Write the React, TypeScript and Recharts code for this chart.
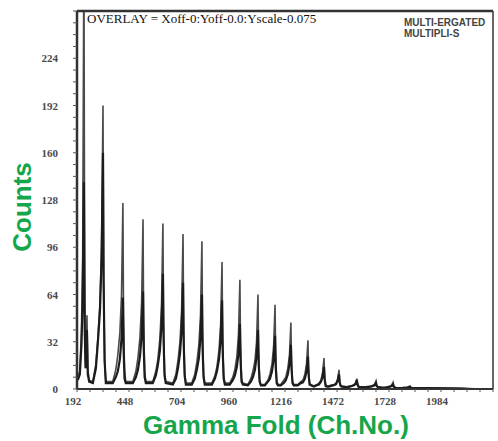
import React from "react";
import { LineChart, Line, XAxis, YAxis } from "recharts";

// Channel numbers (x)
const channels = [
  196, 206, 214, 220, 226, 230, 234, 238, 241, 245, 252,
  270, 285, 295, 305, 313, 320, 323, 328, 334,
  368, 383, 393, 403, 411, 418, 421, 426, 432,
  467, 482, 492, 502, 510, 517, 520, 525, 531,
  565, 580, 590, 600, 608, 615, 618, 623, 629,
  664, 679, 689, 699, 707, 714, 717, 722, 728,
  757, 772, 782, 792, 800, 807, 810, 815, 821,
  856, 871, 881, 891, 899, 906, 909, 914, 920,
  944, 959, 969, 979, 987, 994, 997, 1002, 1008,
  1033, 1048, 1058, 1068, 1076, 1083, 1086, 1091, 1097,
  1117, 1132, 1142, 1152, 1160, 1167, 1170, 1175, 1181,
  1195, 1210, 1220, 1230, 1238, 1245, 1248, 1253, 1259,
  1279, 1294, 1304, 1314, 1322, 1329, 1332, 1337, 1343,
  1358, 1373, 1383, 1393, 1401, 1408, 1411, 1416, 1422,
  1432, 1447, 1457, 1467, 1475, 1482, 1485, 1490, 1496,
  1520, 1535, 1545, 1555, 1563, 1570, 1573, 1578, 1584,
  1614, 1629, 1639, 1649, 1657, 1664, 1667, 1672, 1678,
  1698, 1713, 1723, 1733, 1741, 1748, 1751, 1756, 1762,
  1781, 1796, 1806, 1816, 1824, 1831, 1834, 1839, 1845,
  1900, 2000, 2080, 2150, 2240,
];

// Thin (taller) spectrum
const multiGated = [
  8, 12, 40, 90, 300, 60, 18, 25, 50, 14, 6,
  5, 17, 35, 58, 96, 192, 77, 19, 5,
  5, 13, 23, 38, 63, 126, 50, 13, 5,
  5, 12, 21, 35, 58, 115, 46, 12, 5,
  5, 12, 20, 34, 56, 112, 45, 11, 5,
  4, 10, 19, 32, 53, 105, 42, 11, 4,
  4, 10, 18, 30, 50, 100, 40, 10, 4,
  4, 9, 15, 26, 43, 86, 34, 9, 4,
  4, 8, 13, 22, 37, 74, 30, 7, 4,
  3, 7, 12, 19, 32, 64, 26, 6, 3,
  3, 6, 10, 17, 29, 57, 23, 6, 3,
  3, 6, 8, 14, 23, 45, 18, 5, 3,
  3, 5, 6, 10, 17, 33, 13, 4, 3,
  2, 3, 4, 6, 11, 21, 8, 3, 2,
  2, 2.8, 3, 4, 6.5, 13, 5, 2.3, 2,
  1.5, 2, 2.2, 2.8, 4, 7, 3.5, 1.8, 1.5,
  1.5, 1.8, 2, 2.5, 3.2, 5.5, 2.8, 1.7, 1.5,
  1, 1.3, 1.6, 2, 2.6, 4.5, 2.2, 1.3, 1,
  0.8, 0.9, 1, 1.2, 1.5, 2, 1.3, 0.9, 0.8,
  0.8, 0.6, 0.4, 0, 0,
];

// Dark overlay spectrum
const multipliS = [
  6, 10, 30, 60, 140, 40, 14, 20, 40, 10, 5,
  4, 14, 32, 53, 88, 160, 72, 19, 4,
  4, 8, 12, 20, 34, 62, 28, 7, 4,
  4, 8, 13, 22, 36, 66, 30, 8, 4,
  4, 9, 16, 26, 43, 78, 35, 9, 4,
  3, 7, 14, 24, 40, 72, 32, 9, 3,
  3, 7, 13, 21, 35, 64, 29, 8, 3,
  3, 7, 12, 20, 33, 60, 27, 7, 3,
  3, 6, 9, 15, 24, 44, 20, 5, 3,
  2.5, 5, 8, 13, 22, 40, 18, 5, 2.5,
  2.5, 5, 7, 12, 20, 36, 16, 4, 2.5,
  2.5, 4, 6, 10, 17, 30, 14, 4, 2.5,
  2.5, 4, 4.5, 7, 12, 22, 10, 3, 2.5,
  1.6, 2.5, 3, 5, 8, 15, 7, 2, 1.6,
  1.6, 2.2, 2.5, 3.3, 5.5, 10, 4.5, 2, 1.6,
  1.2, 1.6, 2, 2.5, 3.3, 6, 3, 1.5, 1.2,
  1.2, 1.4, 1.6, 2, 2.5, 4, 2.2, 1.3, 1.2,
  0.8, 1, 1.2, 1.5, 2, 3, 1.6, 1, 0.8,
  0.6, 0.7, 0.8, 1, 1.2, 1.5, 1, 0.7, 0.6,
  0.6, 0.5, 0.3, 0, 0,
];

const xMajorTicks = [192, 448, 704, 960, 1216, 1472, 1728, 1984];
const xMinorTicks = [
  192, 256, 320, 384, 448, 512, 576, 640, 704, 768, 832, 896, 960, 1024, 1088, 1152,
  1216, 1280, 1344, 1408, 1472, 1536, 1600, 1664, 1728, 1792, 1856, 1920, 1984, 2048,
  2112, 2176, 2240,
];
const yMajorTicks = [0, 32, 64, 96, 128, 160, 192, 224];
const yMinorTicks = [
  0, 8, 16, 24, 32, 40, 48, 56, 64, 72, 80, 88, 96, 104, 112, 120, 128, 136, 144, 152,
  160, 168, 176, 184, 192, 200, 208, 216, 224, 232, 240, 248, 256,
];

const data = channels.map((ch, i) => ({ ch, a: multiGated[i], b: multipliS[i] }));

const tickFont = {
  fontFamily: "'Liberation Serif', 'DejaVu Serif', serif",
  fontSize: 11,
  fontWeight: 700,
  fill: "#4a4a4a",
};

const XTick = (props: any) => {
  const { x, y, payload } = props;
  if (!xMajorTicks.includes(payload.value)) return <g />;
  return (
    <text x={x - 4} y={y} dy={9} textAnchor="middle" style={tickFont}>
      {payload.value}
    </text>
  );
};

const YTick = (props: any) => {
  const { x, y, payload } = props;
  if (!yMajorTicks.includes(payload.value)) return <g />;
  return (
    <text x={x} y={y} dy={4} textAnchor="end" style={tickFont}>
      {payload.value}
    </text>
  );
};

const green = "#15a64c";

export default function App() {
  return (
    <div
      style={{
        position: "absolute",
        left: 0,
        top: 0,
        width: 498,
        height: 441,
        background: "#fff",
        overflow: "hidden",
      }}
    >
      <LineChart
        width={498}
        height={441}
        data={data}
        margin={{ top: 10, right: 4, bottom: 0, left: 0 }}
      >
        <XAxis
          dataKey="ch"
          type="number"
          domain={[192, 2240]}
          ticks={xMinorTicks}
          interval={0}
          allowDataOverflow
          height={52}
          axisLine={{ stroke: "#333", strokeWidth: 2 }}
          tickLine={{ stroke: "#555" }}
          tickSize={3}
          tickMargin={4}
          tick={<XTick />}
        />
        <XAxis
          xAxisId="top"
          dataKey="ch"
          type="number"
          orientation="top"
          domain={[192, 2240]}
          ticks={xMinorTicks}
          interval={0}
          allowDataOverflow
          height={1}
          axisLine={{ stroke: "#333", strokeWidth: 2.5 }}
          tickLine={{ stroke: "#666" }}
          tickSize={3}
          tick={false}
        />
        <YAxis
          type="number"
          domain={[0, 256]}
          ticks={yMinorTicks}
          interval={0}
          allowDataOverflow
          width={77}
          axisLine={{ stroke: "#333", strokeWidth: 2.5 }}
          tickLine={{ stroke: "#555" }}
          tickSize={4}
          tickMargin={15}
          tick={<YTick />}
        />
        <YAxis
          yAxisId="right"
          type="number"
          orientation="right"
          domain={[0, 256]}
          ticks={yMinorTicks}
          interval={0}
          allowDataOverflow
          width={1}
          axisLine={{ stroke: "#333", strokeWidth: 1.5 }}
          tickLine={false}
          tick={false}
        />
        <Line
          type="linear"
          dataKey="a"
          stroke="#4a4a4a"
          strokeWidth={1.6}
          dot={false}
          isAnimationActive={false}
        />
        <Line
          type="linear"
          dataKey="b"
          stroke="#1c1c1c"
          strokeWidth={2.2}
          dot={false}
          isAnimationActive={false}
        />
      </LineChart>

      <div
        style={{
          position: "absolute",
          left: 87,
          top: 12,
          fontFamily: "'Liberation Serif', serif",
          fontSize: 13,
          color: "#111",
          whiteSpace: "nowrap",
          lineHeight: "14px",
        }}
      >
        OVERLAY = Xoff-0:Yoff-0.0:Yscale-0.075
      </div>
      <div
        style={{
          position: "absolute",
          left: 404,
          top: 17,
          fontFamily: "'Liberation Sans', Arial, sans-serif",
          fontSize: 10,
          fontWeight: 700,
          color: "#444",
          whiteSpace: "nowrap",
          lineHeight: "11px",
        }}
      >
        MULTI-ERGATED
        <br />
        MULTIPLI-S
      </div>
      <div
        style={{
          position: "absolute",
          left: 22,
          top: 207,
          transform: "translate(-50%, -50%) rotate(-90deg)",
          fontFamily: "'Liberation Sans', Arial, sans-serif",
          fontSize: 26,
          fontWeight: 700,
          color: green,
          whiteSpace: "nowrap",
          lineHeight: "28px",
        }}
      >
        Counts
      </div>
      <div
        style={{
          position: "absolute",
          left: 276,
          top: 425,
          transform: "translate(-50%, -50%)",
          fontFamily: "'Liberation Sans', Arial, sans-serif",
          fontSize: 26,
          fontWeight: 700,
          color: green,
          whiteSpace: "nowrap",
          lineHeight: "28px",
        }}
      >
        Gamma Fold (Ch.No.)
      </div>
    </div>
  );
}
